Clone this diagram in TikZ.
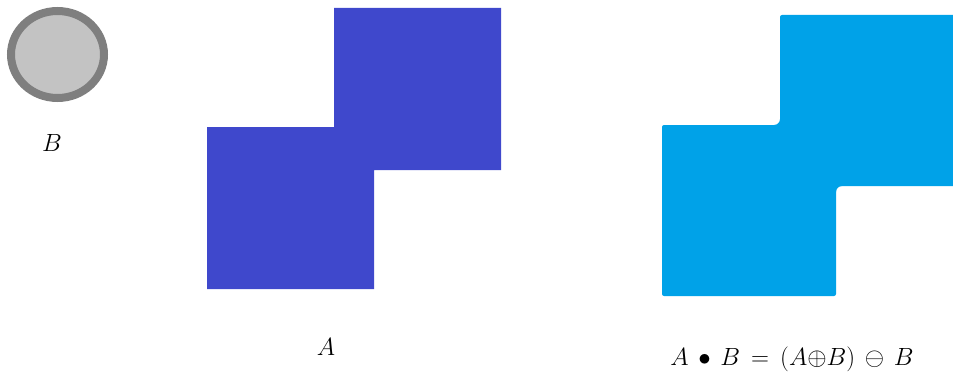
\documentclass[tikz,border=0pt]{standalone}
\definecolor{shapeA}{HTML}{3F48CC}
\definecolor{shapeC}{HTML}{00A2E8}
\definecolor{diskfill}{HTML}{C3C3C3}
\definecolor{diskline}{HTML}{7F7F7F}
\tikzset{
  lbl/.style={inner sep=0pt, anchor=base, font=\fontsize{27}{31}\selectfont},
}
\begin{document}
\begin{tikzpicture}[x=1pt,y=1pt]
\useasboundingbox (0,0) rectangle (953,373);
% structuring element B
\draw[diskline, fill=diskfill, line width=8pt] (57.5,318.5) ellipse[x radius=46.5, y radius=43.5];
\node[lbl] (labB) at (52,222) {$B$};
% set A
\fill[shapeA] (207,84) -- (207,246) -- (334,246) -- (334,365) -- (501,365) -- (501,203) -- (374,203) -- (374,84) -- cycle;
\node[lbl] (labA) at (326,18) {$A$};
% closing
\fill[shapeC, rounded corners=2pt] (662,77) -- (662,248) -- (780,248) -- (780,358) -- (960,358) -- (960,187) -- (836,187) -- (836,77) -- cycle;
\fill[shapeC] (774,248) -- (780,248) -- (780,254) arc[start angle=0, end angle=-90, radius=6] -- cycle;
\fill[shapeC] (836,187) -- (842,187) arc[start angle=90, end angle=180, radius=6] -- cycle;
\node[lbl] (labC) at (792,8) {$A\,\bullet\,B \,=\, (A{\oplus}B)\,\ominus\, B$};
\end{tikzpicture}
\end{document}
